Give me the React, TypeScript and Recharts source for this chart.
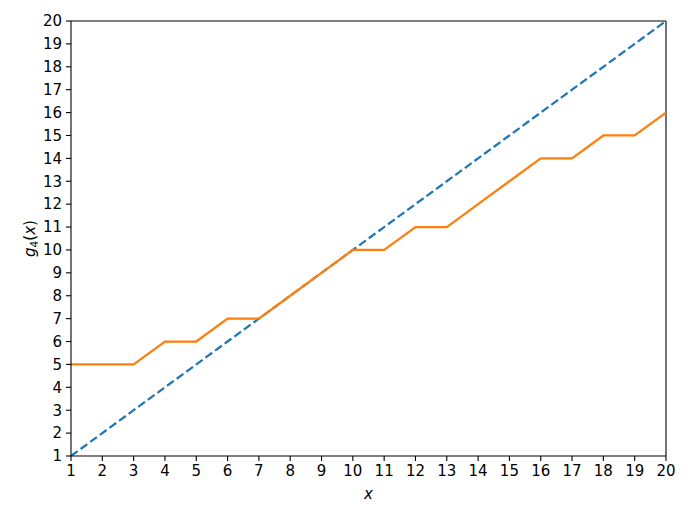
import React from "react";
import { LineChart, Line, XAxis, YAxis, ReferenceLine, Label } from "recharts";

const xValues = [1, 2, 3, 4, 5, 6, 7, 8, 9, 10, 11, 12, 13, 14, 15, 16, 17, 18, 19, 20];
const identityValues = [1, 2, 3, 4, 5, 6, 7, 8, 9, 10, 11, 12, 13, 14, 15, 16, 17, 18, 19, 20];
const g4Values = [5, 5, 5, 6, 6, 7, 7, 8, 9, 10, 10, 11, 11, 12, 13, 14, 14, 15, 15, 16];
const xTicks = [1, 2, 3, 4, 5, 6, 7, 8, 9, 10, 11, 12, 13, 14, 15, 16, 17, 18, 19, 20];
const yTicks = [1, 2, 3, 4, 5, 6, 7, 8, 9, 10, 11, 12, 13, 14, 15, 16, 17, 18, 19, 20];

const data = xValues.map((x, i) => ({ x, id: identityValues[i], g: g4Values[i] }));

const FONT = "DejaVu Sans";
const tickStyle = { fontFamily: FONT, fontSize: 15, fill: "#000" };

const YLabel = (props: any) => {
  const vb = props.viewBox || {};
  const cy = vb.y + vb.height / 2;
  const cx = 30;
  return (
    <text
      transform={`translate(${cx},${cy}) rotate(-90)`}
      textAnchor="middle"
      dominantBaseline="central"
      fontFamily={FONT}
      fontSize={15}
      fill="#000"
    >
      <tspan fontStyle="italic">g</tspan>
      <tspan fontSize={10.5} dy={4}>4</tspan>
      <tspan dy={-4}>(</tspan>
      <tspan fontStyle="italic">x</tspan>
      <tspan>)</tspan>
    </text>
  );
};

export default function App() {
  return (
    <div style={{ position: "absolute", left: 0, top: 0, width: 692, height: 519, background: "#fff" }}>
      <LineChart width={692} height={519} data={data} margin={{ top: 21, right: 26, bottom: 0, left: 0 }}>
        <XAxis
          dataKey="x"
          type="number"
          domain={[1, 20]}
          ticks={xTicks}
          interval={0}
          height={63}
          stroke="#000"
          strokeWidth={1.1}
          tickSize={5}
          tickMargin={4}
          tick={tickStyle}
          tickLine={{ stroke: "#000", strokeWidth: 1.1 }}
          allowDataOverflow
        >
          <Label
            value="x"
            position="insideBottom"
            offset={20}
            style={{ fontFamily: FONT, fontSize: 15, fontStyle: "italic", fill: "#000" }}
          />
        </XAxis>
        <YAxis
          type="number"
          domain={[1, 20]}
          ticks={yTicks}
          interval={0}
          width={71}
          stroke="#000"
          strokeWidth={1.1}
          tickSize={5}
          tickMargin={4}
          tick={tickStyle}
          tickLine={{ stroke: "#000", strokeWidth: 1.1 }}
          allowDataOverflow
        >
          <Label content={<YLabel />} />
        </YAxis>
        <ReferenceLine y={20} stroke="#000" strokeWidth={1.1} />
        <ReferenceLine x={20} stroke="#000" strokeWidth={1.1} />
        <Line
          dataKey="id"
          stroke="#1f77b4"
          strokeWidth={2.25}
          strokeDasharray="8.3 3.6"
          dot={false}
          isAnimationActive={false}
        />
        <Line
          dataKey="g"
          stroke="#ff7f0e"
          strokeWidth={2.25}
          dot={false}
          isAnimationActive={false}
        />
      </LineChart>
    </div>
  );
}
